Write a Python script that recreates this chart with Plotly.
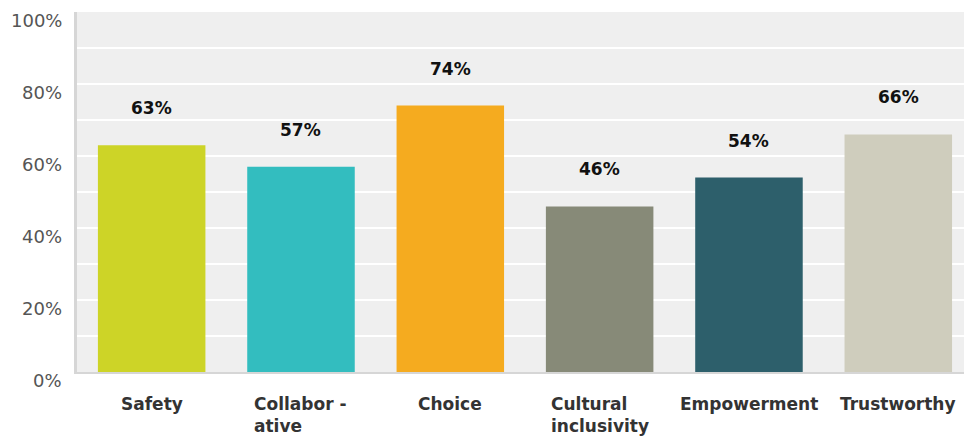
import plotly.graph_objects as go

categories = ["Safety", "Collabor -<br>ative", "Choice", "Cultural<br>inclusivity", "Empowerment", "Trustworthy"]
values = [63, 57, 74, 46, 54, 66]
colors = ["#cdd427", "#33bdbf", "#f5ab1f", "#878a78", "#2d5f6b", "#cfcdbd"]
ytick_vals = [0, 20, 40, 60, 80, 100]
ytick_text = ["0%", "20%", "40%", "60%", "80%", "100%"]

xs = list(range(len(categories)))
FONT = "DejaVu Sans, Arial"

fig = go.Figure()
fig.add_trace(go.Bar(x=xs, y=values, marker=dict(color=colors, line=dict(width=0)),
                     width=0.72, hoverinfo="skip"))

ann = []
for x, v in zip(xs, values):
    ann.append(dict(x=x, y=v, xref="x", yref="y", text=f"<b>{v}%</b>", showarrow=False,
                    yanchor="middle", yshift=37, font=dict(family=FONT, size=17, color="#111111")))
for x, c in zip(xs, categories):
    ann.append(dict(x=x, y=0, xref="x", yref="paper", text=f"<b>{c}</b>", showarrow=False,
                    yanchor="top", yshift=-20, align="left", xanchor="center",
                    font=dict(family=FONT, size=17, color="#333333")))
for v, t in zip(ytick_vals, ytick_text):
    ann.append(dict(x=0, y=v, xref="paper", yref="y", text=t, showarrow=False,
                    xanchor="right", yanchor="middle", xshift=-13, yshift=-8,
                    font=dict(family=FONT, size=18, color="#555555")))

fig.update_layout(
    width=964, height=438,
    margin=dict(l=77, r=0, t=12, b=66),
    paper_bgcolor="white", plot_bgcolor="#efefef",
    showlegend=False, annotations=ann,
    xaxis=dict(range=[-0.5, 5.44], showticklabels=False, showgrid=False, zeroline=False,
               showline=True, linecolor="#d6d6d6", linewidth=2, fixedrange=True),
    yaxis=dict(range=[0, 100], dtick=10, showticklabels=False, showgrid=True,
               gridcolor="white", gridwidth=2, zeroline=False,
               showline=True, linecolor="#d6d6d6", linewidth=3, fixedrange=True),
)
fig.write_html("out.html")
